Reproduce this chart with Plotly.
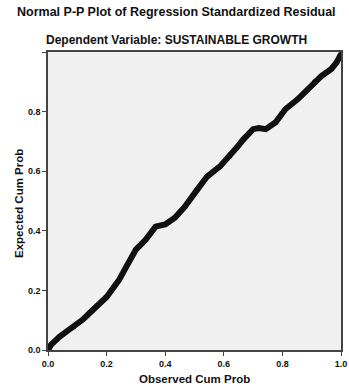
import plotly.graph_objects as go

observed_cum_prob = [0.0, 0.01, 0.04, 0.087, 0.12, 0.143, 0.17, 0.2, 0.22, 0.243, 0.267, 0.285, 0.3,
                     0.333, 0.367, 0.385, 0.4, 0.433, 0.467, 0.51, 0.543, 0.587, 0.62, 0.645,
                     0.667, 0.7, 0.72, 0.743, 0.777, 0.81, 0.853, 0.887, 0.91, 0.933, 0.967, 0.985, 1.0]
expected_cum_prob = [0.0, 0.017, 0.045, 0.077, 0.103, 0.125, 0.15, 0.178, 0.205, 0.236, 0.279, 0.31, 0.337,
                     0.37, 0.414, 0.418, 0.421, 0.444, 0.481, 0.539, 0.582, 0.616, 0.65, 0.68,
                     0.707, 0.741, 0.745, 0.741, 0.764, 0.808, 0.842, 0.875, 0.9, 0.919, 0.943, 0.965, 0.993]

tick_vals = [0.0, 0.2, 0.4, 0.6, 0.8, 1.0]
x_tick_text = ["0.0", "0.2", "0.4", "0.6", "0.8", "1.0"]
y_tick_text = ["0.0", "0.2", "0.4", "0.6", "0.8", ""]

title_text = "Normal P-P Plot of Regression Standardized Residual"
subtitle_text = "Dependent Variable: SUSTAINABLE GROWTH"
x_title = "Observed Cum Prob"
y_title = "Expected Cum Prob"

fig = go.Figure()
fig.add_trace(go.Scatter(
    x=observed_cum_prob, y=expected_cum_prob, mode="lines+markers",
    line=dict(color="#111111", width=6),
    marker=dict(color="#111111", size=5),
    showlegend=False, hoverinfo="skip"))

font_family = "Liberation Sans, Arial, sans-serif"
fig.update_layout(
    width=349, height=387,
    margin=dict(l=48, r=8, t=52, b=37, autoexpand=False),
    paper_bgcolor="white", plot_bgcolor="#f0f0f0",
    font=dict(family=font_family, color="#111111", size=9),
)
fig.add_annotation(text="<b>" + title_text + "</b>", xref="paper", yref="paper",
                   x=0.44, y=1.0, yshift=40, xanchor="center", yanchor="middle",
                   showarrow=False, font=dict(size=12.5))
fig.add_annotation(text="<b>" + subtitle_text + "</b>", xref="paper", yref="paper",
                   x=0.44, y=1.0, yshift=12, xanchor="center", yanchor="middle",
                   showarrow=False, font=dict(size=12))
fig.add_annotation(text="<b>" + x_title + "</b>", xref="paper", yref="paper",
                   x=0.5, y=0.0, yshift=-29, xanchor="center", yanchor="middle",
                   showarrow=False, font=dict(size=11.5))
fig.add_annotation(text="<b>" + y_title + "</b>", xref="paper", yref="paper",
                   x=0.0, y=0.49, xshift=-29, xanchor="center", yanchor="middle",
                   textangle=-90, showarrow=False, font=dict(size=11.5))
fig.update_xaxes(range=[0, 1], tickvals=tick_vals, ticktext=["<b>%s</b>" % t for t in x_tick_text],
                 showgrid=False, zeroline=False, showline=True, linecolor="#444444", linewidth=1.5,
                 mirror=True, ticks="outside", ticklen=4, tickcolor="#444444", automargin=False)
fig.update_yaxes(range=[0, 1], tickvals=tick_vals, ticktext=["<b>%s</b>" % t for t in y_tick_text],
                 showgrid=False, zeroline=False, showline=True, linecolor="#444444", linewidth=1.5,
                 mirror=True, ticks="outside", ticklen=4, tickcolor="#444444", automargin=False)

fig.write_html("out.html", config={"displayModeBar": False},
               post_script="document.body.style.margin='0';document.body.style.overflow='hidden';")
